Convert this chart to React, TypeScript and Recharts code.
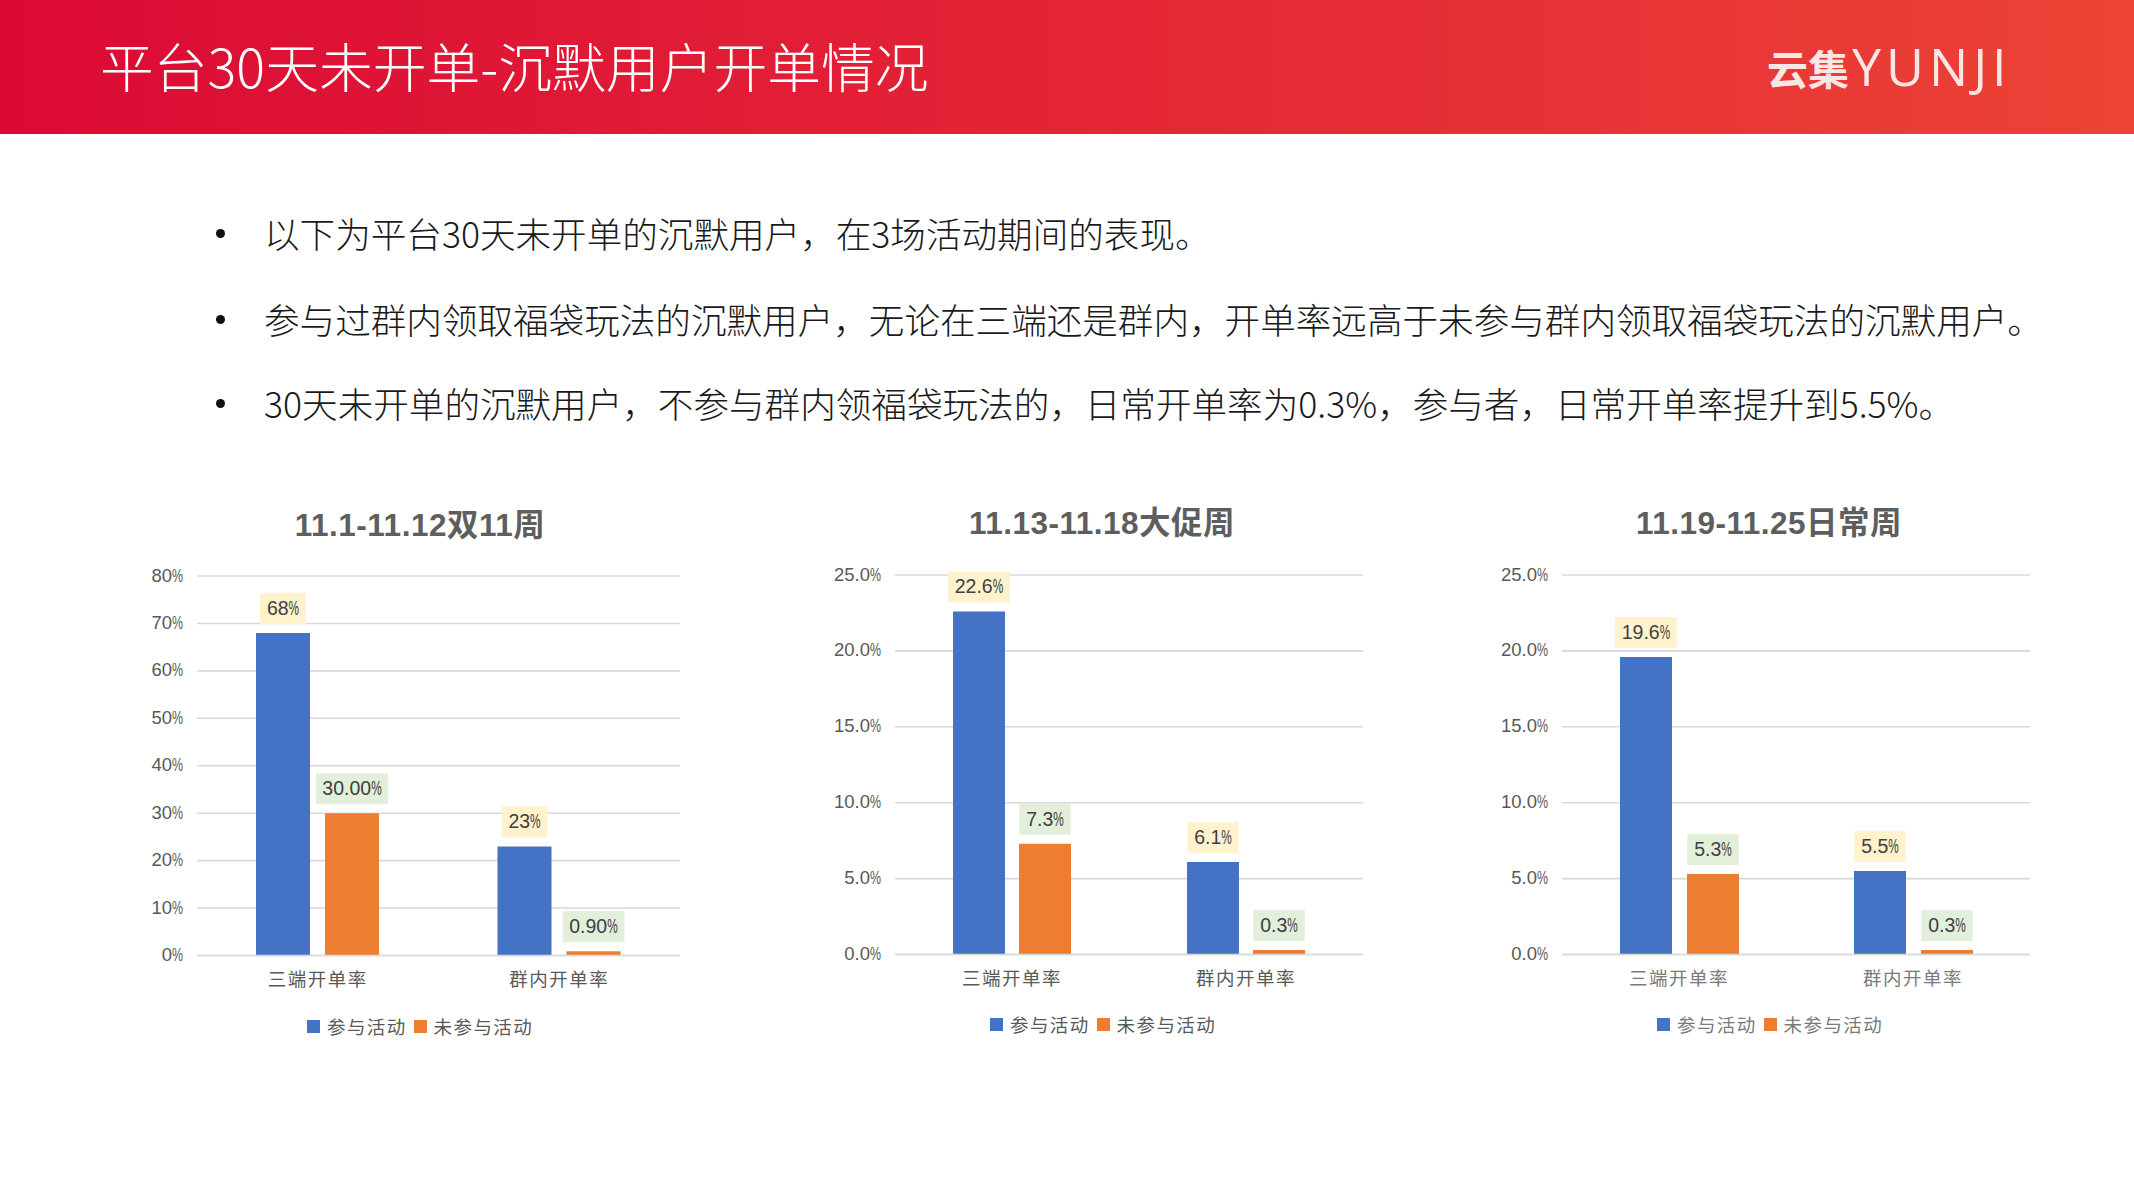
import React from "react";
import { BarChart, Bar, XAxis, YAxis, CartesianGrid, Legend, LabelList } from "recharts";

const categories = ["三端开单率", "群内开单率"];
const seriesNames = ["参与活动", "未参与活动"];

const week1Joined = [68, 23];
const week1NotJoined = [30, 0.9];
const week1JoinedLabels = ["68%", "23%"];
const week1NotJoinedLabels = ["30.00%", "0.90%"];
const week1Ticks = [0, 10, 20, 30, 40, 50, 60, 70, 80];

const week2Joined = [22.6, 6.1];
const week2NotJoined = [7.3, 0.3];
const week2JoinedLabels = ["22.6%", "6.1%"];
const week2NotJoinedLabels = ["7.3%", "0.3%"];

const week3Joined = [19.6, 5.5];
const week3NotJoined = [5.3, 0.3];
const week3JoinedLabels = ["19.6%", "5.5%"];
const week3NotJoinedLabels = ["5.3%", "0.3%"];

const rateTicks = [0, 5, 10, 15, 20, 25];

const bullets = [
  "以下为平台30天未开单的沉默用户，在3场活动期间的表现。",
  "参与过群内领取福袋玩法的沉默用户，无论在三端还是群内，开单率远高于未参与群内领取福袋玩法的沉默用户。",
  "30天未开单的沉默用户，不参与群内领福袋玩法的，日常开单率为0.3%，参与者，日常开单率提升到5.5%。",
];

const LATIN = '"Liberation Sans", "Noto Sans CJK SC", sans-serif';
const CJK = '"Noto Sans CJK SC", sans-serif';
const BLUE = "#4472C4";
const ORANGE = "#ED7D31";
const GRID = "#D9D9D9";
const AXIS_TEXT = "#595959";

const PercentText = ({ x, y, text, anchor, size, fill, pctWidth }: any) => {
  const body = String(text).replace("%", "");
  return (
    <text x={x} y={y} textAnchor={anchor} dominantBaseline="central" fontFamily={LATIN} fontSize={size} fill={fill}>
      <tspan>{body}</tspan>
      <tspan textLength={pctWidth} lengthAdjust="spacingAndGlyphs">%</tspan>
    </text>
  );
};

const boxWidth = (label: string) => {
  const digits = label.replace(/[^0-9]/g, "").length;
  const dots = label.replace(/[^.]/g, "").length;
  return digits * 10.5 + dots * 5.3 + 10 + 15;
};

const makeLabel = (labels: string[], bg: string) => (props: any) => {
  const { x, y, width, index } = props;
  const text = labels[index];
  const w = boxWidth(text);
  const cx = x + width / 2;
  return (
    <g>
      <rect x={cx - w / 2} y={y - 40} width={w} height={31} fill={bg} />
      <PercentText x={cx} y={y - 25} text={text} anchor="middle" size={19.5} fill="#404040" pctWidth={10.5} />
    </g>
  );
};

const Panel = ({
  title, titleY, titleX, joined, notJoined, joinedLabels, notJoinedLabels, ticks, decimals,
  plotL, plotR, plotT, plotB, barSize, barGap, legendX, legendY, catColor,
}: any) => {
  const data = categories.map((name, i) => ({ name, joined: joined[i], notJoined: notJoined[i] }));
  const left = plotL - 90;
  const top = plotT - 20;
  const width = plotR - left + 10;
  const height = plotB - top + 100;
  const YTick = ({ x, y, payload }: any) => (
    <PercentText x={x} y={y - 1.5} text={`${payload.value.toFixed(decimals)}%`} anchor="end" size={18.5} fill={AXIS_TEXT} pctWidth={11} />
  );
  const XTick = ({ x, y, payload }: any) => (
    <text x={x} y={y + 1.5} textAnchor="middle" dominantBaseline="central" fontFamily={CJK} fontSize={18.5} letterSpacing={1.5} fill={catColor}>
      {payload.value}
    </text>
  );
  const renderLegend = () => (
    <div style={{ display: "flex", alignItems: "center", fontFamily: CJK, fontSize: 18.5, letterSpacing: 1.4, color: catColor, whiteSpace: "nowrap", lineHeight: "26px" }}>
      <span style={{ width: 13, height: 13, background: BLUE, marginRight: 7, display: "inline-block" }} />
      <span style={{ marginRight: 7 }}>{seriesNames[0]}</span>
      <span style={{ width: 13, height: 13, background: ORANGE, marginRight: 7, display: "inline-block" }} />
      <span>{seriesNames[1]}</span>
    </div>
  );
  return (
    <>
      <div style={{ position: "absolute", left: titleX - 200, width: 400, top: titleY - 25, height: 50, lineHeight: "50px", textAlign: "center", fontFamily: LATIN, fontSize: 31.5, letterSpacing: 0.5, fontWeight: 700, color: "#5E5E5E", whiteSpace: "nowrap" }}>
        {title}
      </div>
      <div style={{ position: "absolute", left, top }}>
        <BarChart
          width={width}
          height={height}
          data={data}
          barSize={barSize}
          barGap={barGap}
          margin={{ top: 20, right: 10, bottom: 0, left: 0 }}
        >
          <CartesianGrid vertical={false} stroke={GRID} strokeWidth={1.6} />
          <XAxis dataKey="name" axisLine={{ stroke: GRID, strokeWidth: 1.6 }} tickLine={false} tick={<XTick />} tickMargin={14.5} height={74} interval={0} />
          <YAxis type="number" width={90} domain={[ticks[0], ticks[ticks.length - 1]]} ticks={ticks} axisLine={false} tickLine={false} tickMargin={8} tick={<YTick />} interval={0} />
          <Legend content={renderLegend} wrapperStyle={{ position: "absolute", left: legendX - left, top: legendY - top - 14, width: 260, height: 26, bottom: "auto" }} />
          <Bar dataKey="joined" name={seriesNames[0]} fill={BLUE} isAnimationActive={false}>
            <LabelList dataKey="joined" content={makeLabel(joinedLabels, "#FFF2CC")} />
          </Bar>
          <Bar dataKey="notJoined" name={seriesNames[1]} fill={ORANGE} isAnimationActive={false}>
            <LabelList dataKey="notJoined" content={makeLabel(notJoinedLabels, "#E2EFDA")} />
          </Bar>
        </BarChart>
      </div>
    </>
  );
};

export default function App() {
  return (
    <div style={{ position: "absolute", left: 0, top: 0, width: 2134, height: 1200, background: "#fff", overflow: "hidden" }}>
      <div style={{ position: "absolute", left: 0, top: 0, width: 2134, height: 134, background: "linear-gradient(90deg,#DB0A35 0%,#E62B36 62%,#EB4335 100%)" }} />
      <div style={{ position: "absolute", left: 100, top: 25, height: 80, lineHeight: "80px", fontFamily: CJK, fontWeight: 300, fontSize: 53.8, color: "#fff", whiteSpace: "nowrap" }}>
        平台30天未开单-沉默用户开单情况
      </div>
      <div style={{ position: "absolute", left: 1767, top: 37, height: 60, lineHeight: "60px", fontFamily: CJK, fontWeight: 700, fontSize: 41, color: "#FBE6E6", whiteSpace: "nowrap" }}>
        云集
      </div>
      <div style={{ position: "absolute", left: 1852, top: 36, height: 60, lineHeight: "60px", fontFamily: '"Open Sans", sans-serif', fontWeight: 400, fontSize: 52, letterSpacing: 5, color: "#FBE6E6", whiteSpace: "nowrap" }}>
        YUNJI
      </div>

      {bullets.map((b, i) => (
        <React.Fragment key={b}>
          <div style={{ position: "absolute", left: 216, top: [234, 320, 404][i] - 5, width: 9, height: 9, borderRadius: 5, background: "#111" }} />
          <div style={{ position: "absolute", left: 264, top: [234, 320, 404][i] - 31.5, height: 60, lineHeight: "60px", fontFamily: CJK, fontWeight: 300, fontSize: 35.6, color: "#1a1a1a", whiteSpace: "nowrap" }}>
            {b}
          </div>
        </React.Fragment>
      ))}

      <Panel title="11.1-11.12双11周" titleX={420} titleY={525} joined={week1Joined} notJoined={week1NotJoined}
        joinedLabels={week1JoinedLabels} notJoinedLabels={week1NotJoinedLabels} ticks={week1Ticks} decimals={0}
        plotL={197} plotR={680} plotT={576} plotB={955.5} barSize={54} barGap={15} legendX={307} legendY={1027} catColor="#595959" />
      <Panel title="11.13-11.18大促周" titleX={1102} titleY={523} joined={week2Joined} notJoined={week2NotJoined}
        joinedLabels={week2JoinedLabels} notJoinedLabels={week2NotJoinedLabels} ticks={rateTicks} decimals={1}
        plotL={895} plotR={1363} plotT={574.5} plotB={954} barSize={52} barGap={14} legendX={990} legendY={1025} catColor="#595959" />
      <Panel title="11.19-11.25日常周" titleX={1769} titleY={523} joined={week3Joined} notJoined={week3NotJoined}
        joinedLabels={week3JoinedLabels} notJoinedLabels={week3NotJoinedLabels} ticks={rateTicks} decimals={1}
        plotL={1562} plotR={2030} plotT={574.5} plotB={954} barSize={52} barGap={15} legendX={1657} legendY={1025} catColor="#7a7a7a" />
    </div>
  );
}
